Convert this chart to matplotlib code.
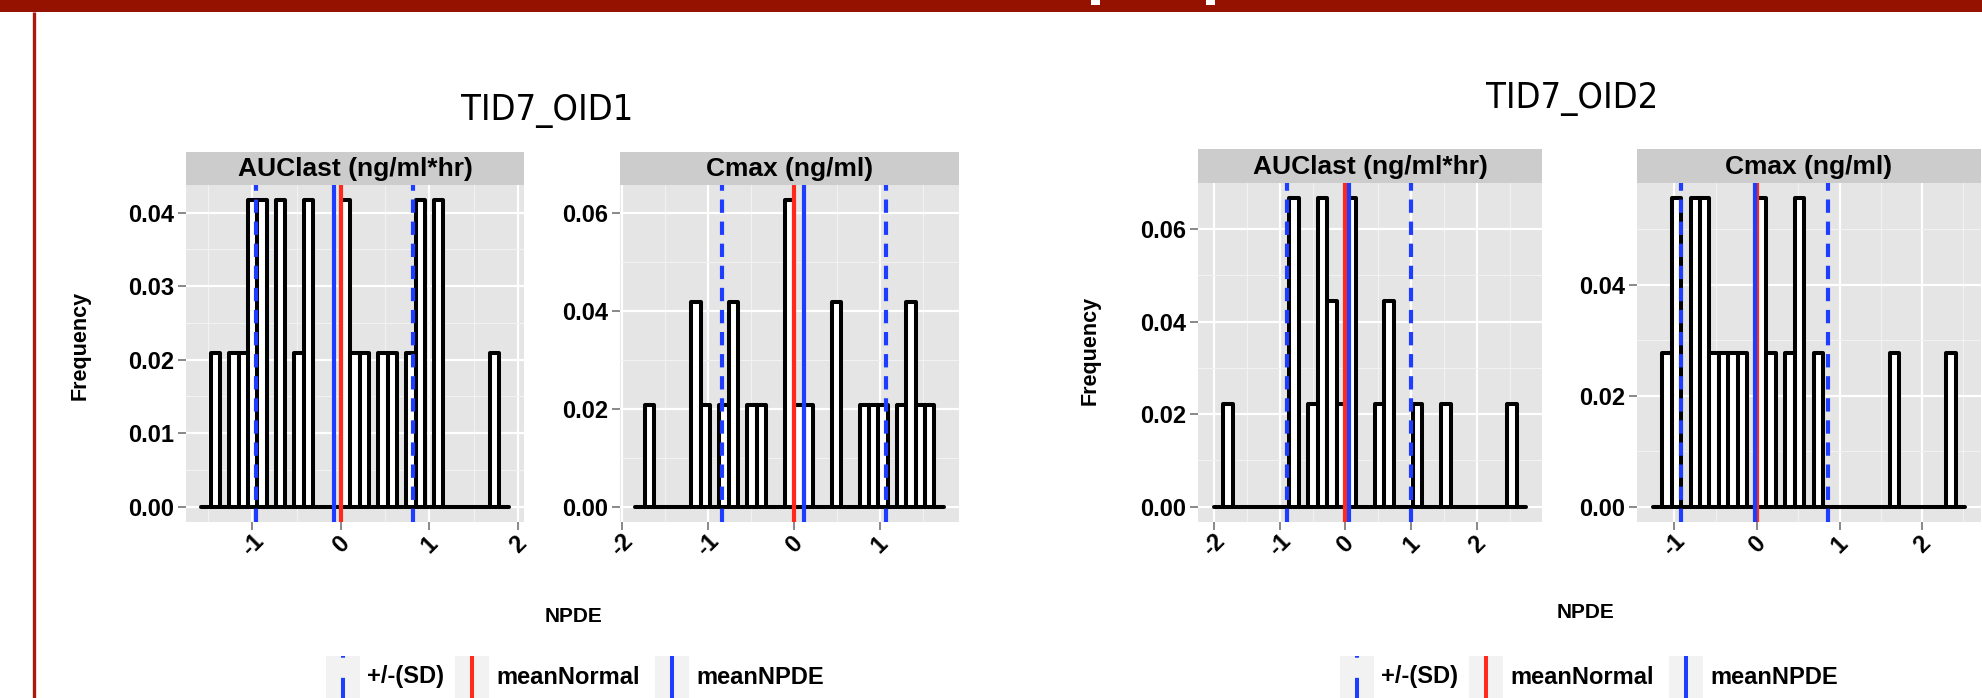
import numpy as np
import matplotlib.pyplot as plt
from matplotlib.patches import Rectangle

plt.rcParams['font.family'] = ['Liberation Sans', 'DejaVu Sans']

W, H = 1982, 698  # output size in pixels (dpi 100)

# ---------------- data ----------------
group_titles = ['TID7_OID1', 'TID7_OID2']
strip_labels = ['AUClast (ng/ml*hr)', 'Cmax (ng/ml)',
                'AUClast (ng/ml*hr)', 'Cmax (ng/ml)']

# histograms: centre of first bin, bin width, counts in each of the 31 bins
first_bin = [-1.42, -1.68, -1.79, -1.09]
bin_width = [0.1053, 0.1087, 0.1443, 0.1147]
counts_oid1_auc = [1, 0, 1, 1, 2, 2, 0, 2, 0, 1, 2, 0, 0, 0, 2, 1,
                   1, 0, 1, 1, 0, 1, 2, 0, 2, 0, 0, 0, 0, 0, 1]
counts_oid1_cmax = [1, 0, 0, 0, 0, 2, 1, 0, 1, 2, 0, 1, 1, 0, 0, 3,
                    1, 1, 0, 0, 2, 0, 0, 1, 1, 1, 0, 1, 2, 1, 1]
counts_oid2_auc = [1, 0, 0, 0, 0, 0, 0, 3, 0, 1, 3, 2, 1, 3, 0, 0,
                   1, 2, 0, 0, 1, 0, 0, 1, 0, 0, 0, 0, 0, 0, 1]
counts_oid2_cmax = [1, 2, 0, 2, 2, 1, 1, 1, 1, 0, 2, 1, 0, 1, 2, 0,
                    1, 0, 0, 0, 0, 0, 0, 0, 1, 0, 0, 0, 0, 0, 1]
freq_per_count = [1 / 48, 1 / 48, 1 / 45, 1 / 36]

mean_normal = 0.0
npde_mean = [-0.075, 0.115, 0.056, -0.028]
npde_sd = [0.888, 0.955, 0.94, 0.89]

x_ticks = [[-1, 0, 1, 2], [-2, -1, 0, 1], [-2, -1, 0, 1, 2], [-1, 0, 1, 2]]
y_ticks = [[0, 0.01, 0.02, 0.03, 0.04], [0, 0.02, 0.04, 0.06],
           [0, 0.02, 0.04, 0.06], [0, 0.02, 0.04]]

legend_labels = ['+/-(SD)', 'meanNormal', 'meanNPDE']

# ---------------- layout (pixels, top-left origin) ----------------
panel_box = [(186, 185, 524, 522), (620, 185, 959, 522),
             (1198, 183, 1542, 522), (1637, 183, 1981, 522)]
strip_top = [152, 152, 149, 149]

BLUE = '#1f3dff'
RED = '#ff2a1c'
SLIDE_RED = '#951100'
DASH = (0, (3.2, 2.1))


def fig_rect(x0, y0, x1, y1):
    return [x0 / W, 1 - y1 / H, (x1 - x0) / W, (y1 - y0) / H]


fig = plt.figure(figsize=(W / 100, H / 100), dpi=100)

# slide decorations + free text, drawn in pixel space
bg = fig.add_axes([0, 0, 1, 1])
bg.set_xlim(0, W)
bg.set_ylim(H, 0)
bg.axis('off')
bg.add_patch(Rectangle((0, 0), W, 12, color=SLIDE_RED, lw=0))
bg.add_patch(Rectangle((1091, 0), 9, 5, color='white', lw=0))
bg.add_patch(Rectangle((1206, 0), 9, 5, color='white', lw=0))
bg.plot([34, 34], [12, H], color='#a81a0c', lw=2.4, solid_capstyle='butt')

title_font = dict(family=['DejaVu Sans'], stretch='condensed', fontsize=26)
bg.text(547, 111, group_titles[0], ha='center', va='center', **title_font)
bg.text(1572, 99, group_titles[1], ha='center', va='center', **title_font)

for fx, fy in [(80, 345), (1090, 350)]:
    bg.text(fx, fy, 'Frequency', rotation=90, ha='center', va='center',
            fontsize=15.5, fontweight='bold')
for nx, ny in [(573, 616), (1585, 613)]:
    bg.text(nx, ny, 'NPDE', ha='center', va='center', fontsize=15,
            fontweight='bold')

# legends under each pair
key_offsets = [0, 129, 329]
legend_styles = [dict(color=BLUE, ls=(0, (5, 5))),
                 dict(color=RED, ls='-'),
                 dict(color=BLUE, ls='-')]
for start in [326, 1340]:
    for off, lab, st in zip(key_offsets, legend_labels, legend_styles):
        kx = start + off
        bg.add_patch(Rectangle((kx, 656), 34, 42, color='#f2f2f2', lw=0))
        bg.plot([kx + 17, kx + 17], [698, 656], lw=2.9,
                solid_capstyle='butt', dash_capstyle='butt', **st)
        bg.text(kx + 41, 677, lab, ha='left', va='center', fontsize=17,
                fontweight='bold')

all_counts = [counts_oid1_auc, counts_oid1_cmax, counts_oid2_auc,
              counts_oid2_cmax]

for i in range(4):
    x0, y0, x1, y1 = panel_box[i]
    ax = fig.add_axes(fig_rect(x0, y0, x1, y1))
    sx = fig.add_axes(fig_rect(x0, strip_top[i], x1, y0))

    # histogram, with an empty bin padded on each side
    counts = np.asarray(all_counts[i], float)
    heights = np.concatenate([[0], counts * freq_per_count[i], [0]])
    bw = bin_width[i]
    centres = first_bin[i] + bw * np.arange(-1, len(counts) + 1)
    ax.bar(centres, heights, width=bw, color='white', edgecolor='black',
           linewidth=2.9, joinstyle='round', capstyle='round', zorder=3)

    m, sd = npde_mean[i], npde_sd[i]
    for v in (m - sd, m + sd):
        ax.axvline(v, color=BLUE, lw=3.0, ls=DASH, zorder=4)
    ax.axvline(mean_normal, color=RED, lw=3.0, zorder=5)
    ax.axvline(m, color=BLUE, lw=3.0, zorder=6)

    xt = x_ticks[i]
    yt = y_ticks[i]
    ymax = heights.max()
    ax.set_xticks(xt)
    ax.set_xticklabels([str(t) for t in xt], rotation=45, ha='center',
                       va='center', fontsize=17, fontweight='bold')
    ax.set_yticks(yt)
    ax.set_yticklabels(['%.2f' % t for t in yt], fontsize=17,
                       fontweight='bold')
    ax.set_xticks(np.arange(-2.5, 3.0, 1.0), minor=True)
    dy = yt[1] - yt[0]
    ax.set_yticks(np.arange(dy / 2, ymax * 1.05, dy), minor=True)

    # ggplot-style 5% expansion; set after the ticks so they don't widen it
    lo, hi = centres[0] - bw / 2, centres[-1] + bw / 2
    pad = 0.05 * (hi - lo)
    ax.set_xlim(lo - pad, hi + pad)
    ax.set_ylim(-0.05 * ymax, 1.05 * ymax)

    ax.set_facecolor('#e5e5e5')
    ax.set_axisbelow(True)
    ax.grid(which='major', color='white', lw=1.6)
    ax.grid(which='minor', color='#f2f2f2', lw=0.8)
    for s in ax.spines.values():
        s.set_visible(False)
    ax.tick_params(which='major', length=5.5, width=1.3, color='#7f7f7f')
    ax.tick_params(which='minor', length=0)
    ax.tick_params(axis='x', pad=11)
    ax.tick_params(axis='y', pad=3)

    sx.set_facecolor('#cccccc')
    sx.set_xticks([])
    sx.set_yticks([])
    for s in sx.spines.values():
        s.set_visible(False)
    sx.text(0.5, 0.48, strip_labels[i], ha='center', va='center',
            transform=sx.transAxes, fontsize=19, fontweight='bold')

fig.savefig('out.png', dpi=100)
